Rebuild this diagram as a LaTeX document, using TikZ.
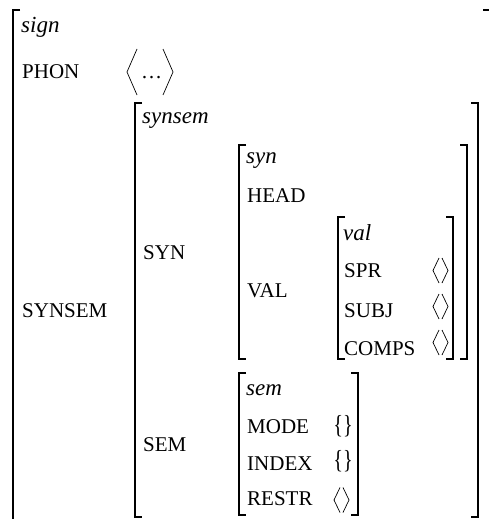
\documentclass[tikz,border=0pt]{standalone}
\usepackage{fontspec}
\setmainfont{Liberation Serif}
\newcommand\angpair[2]{%
  \draw[ang] (#1+6,#2-12.5) -- (#1,#2) -- (#1+6,#2+12.5);
  \draw[ang] (#1+9,#2-12.5) -- (#1+15,#2) -- (#1+9,#2+12.5);}
\begin{document}
\begin{tikzpicture}[x=1pt,y=-1pt,
  br/.style={line width=1.4pt},
  ang/.style={line width=0.7pt},
  lab/.style={anchor=base west, inner sep=0pt, font=\fontsize{21}{23}\selectfont},
  typ/.style={anchor=base west, inner sep=0pt, font=\fontsize{23}{25}\selectfont\itshape},
  brc/.style={anchor=center, inner sep=0pt, xscale=0.78, transform shape, font=\fontsize{26}{28}\selectfont}]
\useasboundingbox (0,0) rectangle (489,519);
% texts
\node[typ] (sign) at (21,33) {sign};
\node[lab] (phon) at (22,78) {PHON};
\node[lab] (dots) at (141,78) {…};
\node[lab] (synsemL) at (22,317) {SYNSEM};
\node[typ] (synsem) at (142,123) {synsem};
\node[lab] (synL) at (143,259) {SYN};
\node[lab] (semL) at (143,451) {SEM};
\node[typ] (syn) at (246,163) {syn};
\node[lab] (head) at (247,202) {HEAD};
\node[lab] (valL) at (247,297) {VAL};
\node[typ] (val) at (343,240) {val};
\node[lab] (spr) at (344,277) {SPR};
\node[lab] (subj) at (344,317) {SUBJ};
\node[lab] (comps) at (344,355) {COMPS};
\node[typ] (sem) at (246,395) {sem};
\node[lab] (mode) at (247,433) {MODE};
\node[lab] (index) at (247,470) {INDEX};
\node[lab] (restr) at (247,505) {RESTR};
\node[brc] (modev) at (343,426.5) {\{\}};
\node[brc] (indexv) at (343,461.5) {\{\}};
% small angle pairs (values of SPR, SUBJ, COMPS, RESTR)
\angpair{433}{270.5}
\angpair{433}{306.5}
\angpair{433}{342.5}
\angpair{334}{500}
% big angle brackets
\draw[ang] (137,49) -- (127,72) -- (137,95);
\draw[ang] (163,49) -- (173,72) -- (163,95);
% square brackets
\draw[br] (20,10) -| (13,525);
\draw[br] (483,10) -- (489,10);
\draw[br] (142,103) -| (135,517) -- (142,517);
\draw[br] (471,103) -| (478,517) -- (471,517);
\draw[br] (246,145) -| (239,359) -- (246,359);
\draw[br] (460,145) -| (467,359) -- (460,359);
\draw[br] (345,217) -| (338,359) -- (345,359);
\draw[br] (446,217) -| (453,359) -- (446,359);
\draw[br] (246,373) -| (239,515) -- (246,515);
\draw[br] (351,373) -| (358,515) -- (351,515);
\end{tikzpicture}
\end{document}
